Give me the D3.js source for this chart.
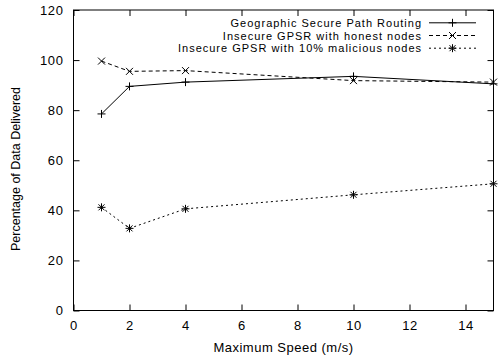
<!DOCTYPE html>
<html>
<head>
<meta charset="utf-8">
<script src="https://cdn.jsdelivr.net/npm/d3@7"></script>
<style>
  body { margin: 0; background: #fff; }
  text { font-family: "Liberation Sans", Arial, sans-serif; font-size: 12px; fill: #000; }
</style>
</head>
<body>
<svg id="chart" width="504" height="360"></svg>
<script>
// values
var speeds = [1, 2, 4, 10, 15]
var gspr = [78.5, 89.5, 91.2, 93.5, 90.5]
var honest = [99.6, 95.5, 95.8, 91.8, 91.2]
var malicious = [41.2, 32.8, 40.6, 46.2, 50.6]
var seriesNames = ["Geographic Secure Path Routing",
                   "Insecure GPSR with honest nodes",
                   "Insecure GPSR with 10% malicious nodes"]
var xTicks = [0, 2, 4, 6, 8, 10, 12, 14]
var yTicks = [0, 20, 40, 60, 80, 100, 120]

var svg = d3.select("#chart")
// plot edges (don't call it "top", that's window.top)
var plotL = 73.5, plotR = 493.5, plotT = 10, plotB = 310.5

var x = d3.scaleLinear().domain([0, 15]).range([plotL, plotR])
var y = d3.scaleLinear().domain([0, 120]).range([plotB, plotT])

// frame
svg.append("rect")
    .attr("x", plotL).attr("y", plotT)
    .attr("width", plotR - plotL).attr("height", plotB - plotT)
    .attr("fill", "none").attr("stroke", "#000").attr("stroke-width", 1)

// inward ticks on all four sides
svg.append("g").attr("transform", "translate(0," + plotB + ")")
    .call(d3.axisBottom(x).tickValues(xTicks).tickSizeInner(-6).tickSizeOuter(0).tickPadding(10))
svg.append("g").attr("transform", "translate(0," + plotT + ")")
    .call(d3.axisTop(x).tickValues(xTicks).tickSizeInner(-6).tickSizeOuter(0).tickFormat(""))
svg.append("g").attr("transform", "translate(" + plotL + ",0)")
    .call(d3.axisLeft(y).tickValues(yTicks).tickSizeInner(-6).tickSizeOuter(0).tickPadding(10))
svg.append("g").attr("transform", "translate(" + plotR + ",0)")
    .call(d3.axisRight(y).tickValues(yTicks).tickSizeInner(-6).tickSizeOuter(0).tickFormat(""))

svg.selectAll(".domain").remove()
svg.selectAll(".tick line").attr("stroke", "#000")
svg.selectAll(".tick text")
    .style("font-family", "Liberation Sans, Arial, sans-serif")
    .style("font-size", "13px")
    .style("letter-spacing", "0.6px")
    .attr("fill", "#000")

// axis titles
svg.append("text")
    .attr("x", (plotL + plotR) / 2).attr("y", 352)
    .attr("text-anchor", "middle")
    .style("font-size", "13px")
    .style("letter-spacing", "0.5px")
    .text("Maximum Speed (m/s)")
svg.append("text")
    .attr("transform", "translate(20,169) rotate(-90)")
    .attr("text-anchor", "middle")
    .style("font-size", "12.5px")
    .text("Percentage of Data Delivered")

// marker shapes
function plus(g, s) {
    g.append("path").attr("d", "M" + (-s) + ",0H" + s + "M0," + (-s) + "V" + s)
}
function cross(g, s) {
    g.append("path").attr("d", "M" + (-s) + "," + (-s) + "L" + s + "," + s + "M" + (-s) + "," + s + "L" + s + "," + (-s))
}
function star(g, s) {
    plus(g, s)
    cross(g, s * 0.75)
}

var series = [
    {name: seriesNames[0], values: gspr, dash: null, marker: plus, size: 4},
    {name: seriesNames[1], values: honest, dash: "4,3", marker: cross, size: 3.5},
    {name: seriesNames[2], values: malicious, dash: "2,3", marker: star, size: 4}
]

var line = d3.line()
    .x(function(d) { return x(d[0]) })
    .y(function(d) { return y(d[1]) })

series.forEach(function(s) {
    var pts = speeds.map(function(v, i) { return [v, s.values[i]] })
    svg.append("path")
        .datum(pts)
        .attr("d", line)
        .attr("fill", "none")
        .attr("stroke", "#000")
        .attr("stroke-width", 1)
        .attr("stroke-dasharray", s.dash)

    pts.forEach(function(p) {
        var g = svg.append("g")
            .attr("transform", "translate(" + x(p[0]) + "," + y(p[1]) + ")")
            .attr("stroke", "#000").attr("stroke-width", 1).attr("fill", "none")
        s.marker(g, s.size)
    })
})

// legend, top right
var legend = svg.append("g")
series.forEach(function(s, i) {
    var ly = 22.8 + i * 12.7
    legend.append("text")
        .attr("x", 422).attr("y", ly + 4)
        .attr("text-anchor", "end")
        .style("font-size", "11px")
        .style("letter-spacing", "1px")
        .text(s.name)
    legend.append("line")
        .attr("x1", 429).attr("x2", 476)
        .attr("y1", ly).attr("y2", ly)
        .attr("stroke", "#000").attr("stroke-width", 1)
        .attr("stroke-dasharray", s.dash)
    var g = legend.append("g")
        .attr("transform", "translate(452.5," + ly + ")")
        .attr("stroke", "#000").attr("stroke-width", 1).attr("fill", "none")
    s.marker(g, s.size)
})
</script>
</body>
</html>
